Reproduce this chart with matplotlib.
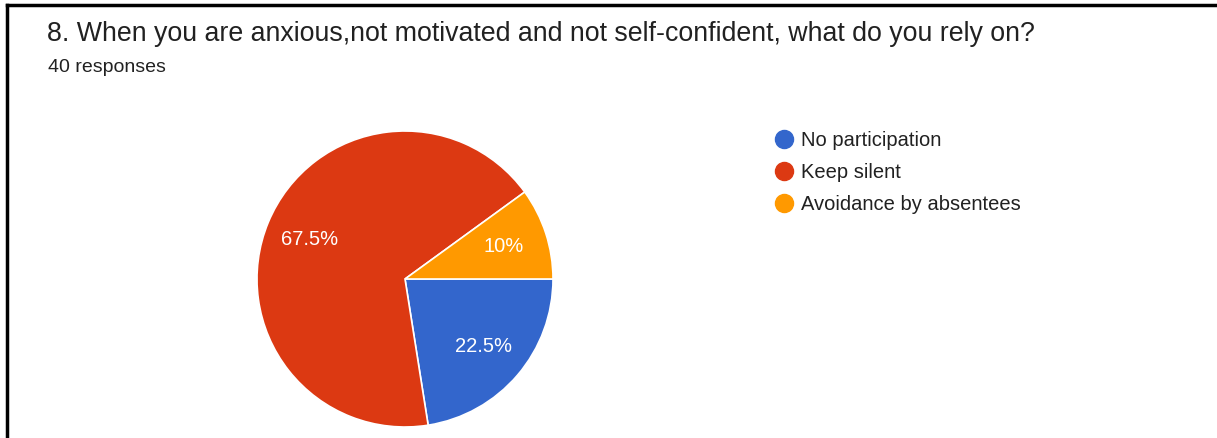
import matplotlib.pyplot as plt
from matplotlib.lines import Line2D

plt.rcParams['font.family'] = ['Liberation Sans', 'DejaVu Sans']

title = "8. When you are anxious,not motivated and not self-confident, what do you rely on?"
subtitle = "40 responses"
labels = ["No participation", "Keep silent", "Avoidance by absentees"]
shares = [22.5, 67.5, 10.0]
colors = ["#3366cc", "#dc3912", "#ff9900"]

W, H = 1217, 438
fig = plt.figure(figsize=(W / 100, H / 100), dpi=100)

# frame lines (top and left) as in the screenshot
fig.add_artist(Line2D([7 / W, 1.0], [1 - 5 / H, 1 - 5 / H], color="black", lw=2.5))
fig.add_artist(Line2D([7 / W, 7 / W], [0, 1 - 5 / H], color="black", lw=2.5))

fig.text(47 / W, 1 - 34 / H, title, fontsize=19.3, color="#212121", va="center", ha="left")
fig.text(48 / W, 1 - 68 / H, subtitle, fontsize=14, color="#212121", va="center", ha="left")

# pie: centre (405, 279), radius 148 px
cx, cy, r = 405, 279, 148
ax = fig.add_axes([(cx - r) / W, (H - cy - r) / H, 2 * r / W, 2 * r / H])
wedges, texts, autotexts = ax.pie(
    shares, colors=colors, startangle=0, counterclock=False,
    autopct=lambda p: f"{p:g}%", pctdistance=0.7,
    wedgeprops=dict(edgecolor="white", linewidth=1.2),
    textprops=dict(color="white", fontsize=14.5),
)
ax.set_xlim(-1, 1)
ax.set_ylim(-1, 1)
ax.set_aspect("equal")
ax.axis("off")

# legend
for i, (lab, col) in enumerate(zip(labels, colors)):
    y = 1 - (139 + 32 * i) / H
    fig.add_artist(Line2D([784 / W], [y], marker="o", markersize=13,
                          color=col, markeredgecolor=col, linestyle="none"))
    fig.text(801 / W, y - 2 / H, lab, fontsize=14.5, color="#212121", va="center", ha="left")

fig.savefig("out.png", dpi=100)
